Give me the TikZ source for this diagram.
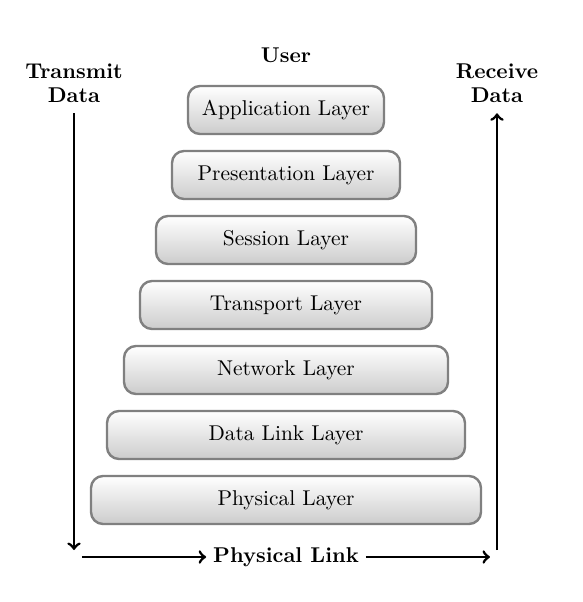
\documentclass[tikz,border=0pt]{standalone}
\usepackage{tikz}
\usetikzlibrary{positioning,arrows}
\newcommand\LayerFont{\fontsize{10.7}{11.8}\selectfont}
\tikzset{
  layer/.style={
    shape = rectangle,
    rounded corners = 6pt,
    draw = gray,
    line width = 1.2pt,
    top color = white,
    bottom color = black!20,
    minimum height = 24pt,
    inner sep = 2pt,
    font = \LayerFont
  },
  flow/.style={
    ->,
    line width = 1.4pt
  },
  lbl/.style={
    font = \LayerFont\bfseries,
    align = center
  }
}
\begin{document}
\begin{tikzpicture}[x=0.5pt,y=-0.5pt]
  \useasboundingbox (0,0) rectangle (583,602);

  % the seven layers, widest at the bottom
  \foreach \nm/\txt/\w [count=\i] in {app/Application Layer/196,
      pres/Presentation Layer/228, sess/Session Layer/260,
      trans/Transport Layer/292, net/Network Layer/324,
      dlink/Data Link Layer/358, phys/Physical Layer/390}
  {
    \node[layer, minimum width=\w/2*1pt] (\nm) at (286,{110+65*(\i-1)}) {\txt};
  }

  \node[lbl] (user) at (286,55) {User};
  \node[lbl] (tx) at (74,83) {Transmit\\Data};
  \node[lbl] (rx) at (497,83) {Receive\\Data};
  \node[lbl] (link) at (286,557) {Physical Link};

  \coordinate (txbot) at (74,550);
  \coordinate (rxbot) at (497,550);
  \coordinate (linkl) at (82,557);
  \coordinate (linkr) at (490,557);

  \draw[flow, shorten <=2pt] (tx.south) -- (txbot);
  \draw[flow, shorten >=2pt] (rxbot) -- (rx.south);
  \draw[flow] (linkl) -- (link.west);
  \draw[flow] (link.east) -- (linkr);
\end{tikzpicture}
\end{document}
